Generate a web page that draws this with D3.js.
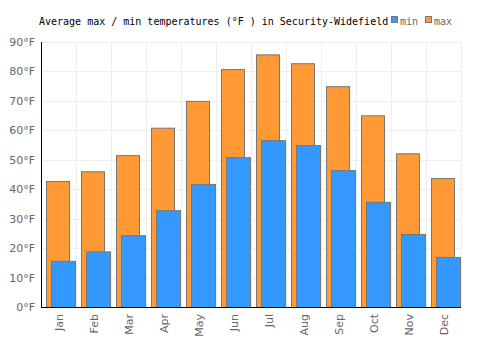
<!DOCTYPE html>
<html><head><meta charset="utf-8">
<script src="https://cdn.jsdelivr.net/npm/d3@7"></script>
<style>body{margin:0;background:#fff}</style>
</head><body><svg id="c" width="500" height="350"></svg>
<script>
const months = ["Jan","Feb","Mar","Apr","May","Jun","Jul","Aug","Sep","Oct","Nov","Dec"];
const maxTemps = [42.8, 46.1, 51.6, 60.9, 70.0, 80.8, 85.8, 82.8, 75.0, 65.1, 52.2, 43.8];
const minTemps = [15.7, 18.9, 24.4, 32.9, 41.8, 50.9, 56.7, 55.0, 46.5, 35.7, 24.8, 17.0];
const yTicks = [0,10,20,30,40,50,60,70,80,90];
const title = "Average max / min temperatures (°F ) in Security-Widefield";

const svg = d3.select("#c");
const L = 41, R = 461, T = 42, B = 307;
const x = d3.scaleBand().domain(months).range([L, R]).padding(0);
const y = d3.scaleLinear().domain([0, 90]).range([B, T]);

// grid
svg.append("g").selectAll("line.h").data(yTicks).join("line")
  .attr("x1", L).attr("x2", R).attr("y1", d => Math.round(y(d)) + 0.5).attr("y2", d => Math.round(y(d)) + 0.5)
  .attr("stroke", "#eeeeee");
svg.append("g").selectAll("line.v").data(months.slice(1).concat(["end"])).join("line")
  .attr("x1", (d,i) => L + (i+1)*x.bandwidth() + 0.5).attr("x2", (d,i) => L + (i+1)*x.bandwidth() + 0.5)
  .attr("y1", T).attr("y2", B).attr("stroke", "#eeeeee");

const bw = x.bandwidth();
// max bars
svg.append("g").selectAll("rect").data(maxTemps).join("rect")
  .attr("x", (d,i) => x(months[i]) + 5.5).attr("width", 23)
  .attr("y", d => y(d) + 0.5).attr("height", d => B - y(d))
  .attr("fill", "#ff9933").attr("stroke", "#777").attr("stroke-width", 1);
// min bars
svg.append("g").selectAll("rect").data(minTemps).join("rect")
  .attr("x", (d,i) => x(months[i]) + 10.5).attr("width", 24)
  .attr("y", d => y(d) + 0.5).attr("height", d => B - y(d))
  .attr("fill", "#3399ff").attr("stroke", "#777").attr("stroke-width", 1);

// axes
const yAxis = d3.axisLeft(y).tickValues(yTicks).tickSize(0).tickPadding(6).tickFormat(d => d + "°F");
const gy = svg.append("g").attr("transform", `translate(${L},0)`).call(yAxis);
gy.select(".domain").remove();
gy.selectAll("text").attr("fill", "#666").style("font-family", "Verdana, 'DejaVu Sans', sans-serif").style("font-size", "11px");

const xAxis = d3.axisBottom(x).tickSize(0).tickPadding(0);
const gx = svg.append("g").attr("transform", `translate(0,${B})`).call(xAxis);
gx.select(".domain").remove();
gx.selectAll("text").attr("fill", "#666").style("font-family", "Verdana, 'DejaVu Sans', sans-serif").style("font-size", "11px")
  .attr("text-anchor", "end").attr("dy", null).attr("y", 0)
  .attr("transform", "translate(4,7) rotate(-90)");

svg.append("line").attr("x1", L + 0.5).attr("x2", L + 0.5).attr("y1", T).attr("y2", B + 1).attr("stroke", "#000");
svg.append("line").attr("x1", L).attr("x2", R).attr("y1", B + 0.5).attr("y2", B + 0.5).attr("stroke", "#000");

// title + legend
const mono = "'DejaVu Sans Mono', monospace";
svg.append("text").attr("x", 39).attr("y", 25).text(title)
  .style("font-family", mono).style("font-size", "10px").attr("fill", "#000");
const leg = [{k:"min", c:"#3399ff", x:391}, {k:"max", c:"#ff9933", x:425}];
leg.forEach(l => {
  svg.append("rect").attr("x", l.x + 0.5).attr("y", 16.5).attr("width", 6).attr("height", 6)
    .attr("fill", l.c).attr("stroke", "#777");
  svg.append("text").attr("x", l.x + 9).attr("y", 25).text(l.k)
    .style("font-family", mono).style("font-size", "10px").attr("fill", "#666");
});
</script></body></html>
